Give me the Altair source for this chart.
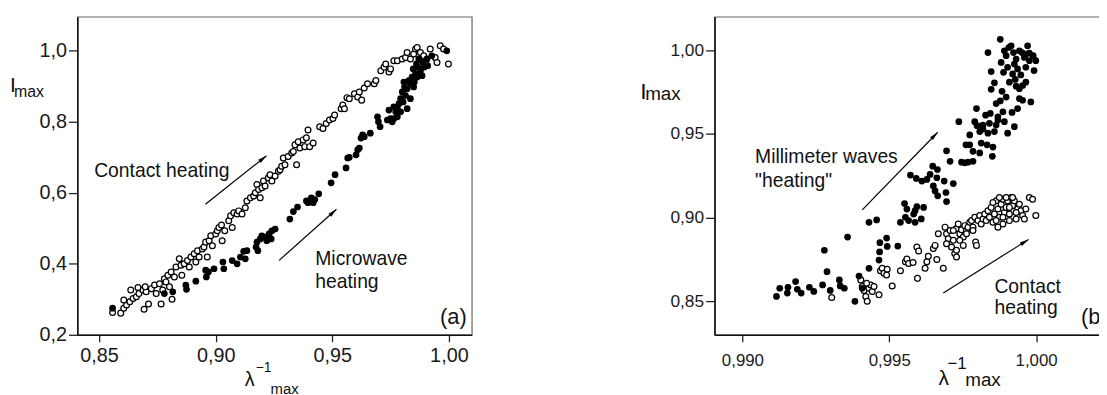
import altair as alt
import pandas as pd

FONT = "Liberation Sans"

# ---------------- panel (a) data ----------------
a_contact_x = [0.8558,0.8593,0.8606,0.8618,0.8632,0.8646,0.8606,0.8636,0.8660,0.8671,
 0.8688,0.8702,0.8693,0.8712,0.8667,0.8698,0.8724,0.8738,0.8745,0.8759,
 0.8766,0.8773,0.8780,0.8787,0.8795,0.8802,0.8813,0.8809,0.8823,0.8830,
 0.8844,0.8851,0.8855,0.8865,0.8879,0.8887,0.8894,0.8908,0.8915,0.8922,
 0.8929,0.8943,0.8950,0.8957,0.8964,0.8972,0.8979,0.8986,0.9000,0.9007,
 0.9014,0.9025,0.9028,0.9039,0.9056,0.9064,0.9071,0.9078,0.9092,0.9099,
 0.9113,0.9127,0.9134,0.9149,0.9163,0.9170,0.9177,0.9184,0.9191,0.9198,
 0.9205,0.9212,0.9226,0.9233,0.9241,0.9255,0.9269,0.9276,0.9283,0.9290,
 0.9297,0.9311,0.9326,0.9333,0.9340,0.9347,0.9354,0.9361,0.9375,0.9382,
 0.9389,0.9396,0.9403,0.9418,0.9446,0.9460,0.9474,0.9488,0.9503,0.9510,
 0.9538,0.9545,0.9552,0.9563,0.9573,0.9595,0.9609,0.9616,0.9626,0.9637,
 0.9651,0.9680,0.9687,0.9708,0.9722,0.9729,0.9743,0.9750,0.9764,0.9779,
 0.9800,0.9814,0.9821,0.9835,0.9849,0.9857,0.9864,0.9878,0.9892,0.9920,
 0.9941,0.9949,0.9963,0.9977,0.9998,0.9881,0.9899]
a_contact_y = [0.263,0.261,0.275,0.284,0.293,0.302,0.298,0.326,0.307,0.316,
 0.326,0.321,0.272,0.287,0.333,0.335,0.330,0.340,0.316,0.344,
 0.287,0.326,0.358,0.349,0.368,0.335,0.300,0.377,0.363,0.391,
 0.414,0.396,0.368,0.400,0.409,0.391,0.419,0.428,0.405,0.437,
 0.419,0.442,0.447,0.461,0.419,0.465,0.479,0.451,0.484,0.493,
 0.502,0.509,0.465,0.493,0.521,0.535,0.502,0.544,0.540,0.549,
 0.540,0.558,0.577,0.586,0.591,0.600,0.623,0.609,0.586,0.614,
 0.633,0.619,0.642,0.651,0.633,0.647,0.661,0.665,0.675,0.698,
 0.679,0.702,0.712,0.716,0.735,0.679,0.744,0.726,0.749,0.730,
 0.755,0.777,0.730,0.740,0.786,0.781,0.795,0.805,0.809,0.819,
 0.837,0.847,0.837,0.868,0.865,0.879,0.870,0.884,0.861,0.895,
 0.907,0.907,0.916,0.944,0.954,0.963,0.940,0.949,0.972,0.972,
 0.977,0.981,0.995,0.977,0.991,1.005,1.009,0.995,0.986,1.005,
 0.981,0.967,1.014,1.005,0.963,0.963,0.967]

a_micro_x = [0.8558,0.8780,0.8816,0.8872,0.8875,0.8915,0.8957,0.8960,0.8969,0.8993,
 0.9031,0.9035,0.9071,0.9092,0.9106,0.9120,0.9127,0.9134,0.9173,0.9177,
 0.9181,0.9191,0.9198,0.9212,0.9219,0.9229,0.9238,0.9241,0.9255,0.9318,
 0.9333,0.9351,0.9389,0.9396,0.9410,0.9418,0.9425,0.9442,0.9495,0.9512,
 0.9559,0.9566,0.9573,0.9602,0.9609,0.9616,0.9623,0.9630,0.9637,0.9663,
 0.9694,0.9698,0.9705,0.9736,0.9743,0.9750,0.9764,0.9772,0.9779,0.9786,
 0.9793,0.9800,0.9804,0.9810,0.9814,0.9821,0.9828,0.9835,0.9842,0.9847,
 0.9852,0.9857,0.9861,0.9866,0.9871,0.9878,0.9885,0.9889,0.9895,0.9906,
 0.9835,0.9821,0.9793,0.9764,0.9757,0.9779,0.9807,0.9849,0.9864,0.9991,
 0.9927,0.9909]
a_micro_y = [0.275,0.316,0.321,0.340,0.328,0.351,0.382,0.363,0.377,0.386,
 0.405,0.386,0.409,0.400,0.419,0.435,0.414,0.437,0.447,0.461,
 0.437,0.470,0.479,0.475,0.465,0.484,0.470,0.493,0.498,0.526,
 0.547,0.560,0.577,0.572,0.586,0.572,0.581,0.597,0.628,0.651,
 0.670,0.698,0.700,0.707,0.721,0.726,0.754,0.763,0.758,0.768,
 0.814,0.800,0.786,0.805,0.833,0.809,0.842,0.828,0.814,0.851,
 0.865,0.884,0.856,0.898,0.874,0.893,0.916,0.907,0.926,0.949,
 0.912,0.935,0.963,0.954,0.977,0.944,0.930,0.967,0.954,0.977,
 0.865,0.837,0.828,0.809,0.800,0.837,0.912,0.898,0.926,1.000,
 0.986,0.958]

# ---------------- panel (b) data ----------------
b_mm_x = [0.99116,0.99127,0.99153,0.99155,0.99181,0.99187,0.99200,0.99228,0.99243,0.99273,
 0.99279,0.99288,0.99299,0.99330,0.99333,0.99347,0.99358,0.99383,0.99397,0.99408,
 0.99431,0.99431,0.99465,0.99467,0.99468,0.99457,0.99491,0.99493,0.99529,0.99552,
 0.99555,0.99566,0.99572,0.99588,0.99592,0.99588,0.99594,0.99609,0.99617,0.99639,
 0.99648,0.99650,0.99664,0.99665,0.99687,0.99695,0.99707,0.99718,0.99695,0.99737,
 0.99746,0.99761,0.99768,0.99774,0.99785,0.99774,0.99791,0.99797,0.99808,0.99813,
 0.99819,0.99828,0.99836,0.99844,0.99851,0.99853,0.99858,0.99864,0.99847,0.99858,
 0.99864,0.99870,0.99878,0.99884,0.99892,0.99898,0.99903,0.99909,0.99918,0.99926,
 0.99932,0.99937,0.99943,0.99954,0.99870,0.99881,0.99889,0.99898,0.99903,0.99915,
 0.99920,0.99926,0.99932,0.99937,0.99943,0.99948,0.99954,0.99960,0.99965,0.99971,
 0.99977,0.99982,0.99990,0.99993,0.99999,0.99878,0.99892,0.99836,0.99847,0.99907,
 0.99923,0.99952,0.99965,0.99977,0.99929,0.99943,0.99887,0.99841,0.99808,0.99785,
 0.99965,0.99799,0.99819,0.99833,0.99757,0.99611,0.99662,0.99656,0.99628,0.99560,
 0.99583,0.99538,0.99693]
b_mm_y = [0.8529,0.8578,0.8549,0.8584,0.8618,0.8572,0.8549,0.8584,0.8559,0.8598,
 0.8805,0.8677,0.8565,0.8628,0.8592,0.8578,0.8884,0.8500,0.8651,0.8578,
 0.8972,0.8697,0.8746,0.8795,0.8850,0.8986,0.8878,0.8828,0.8830,0.9084,
 0.9002,0.8982,0.9254,0.8972,0.9234,0.9041,0.9065,0.8992,0.9061,0.9258,
 0.9307,0.9189,0.9287,0.9130,0.9218,0.9399,0.9336,0.9203,0.9096,0.9573,
 0.9331,0.9435,0.9331,0.9435,0.9396,0.9494,0.9573,0.9651,0.9514,0.9445,
 0.9553,0.9612,0.9504,0.9622,0.9366,0.9421,0.9514,0.9553,0.9766,0.9805,
 0.9681,0.9602,0.9697,0.9754,0.9573,0.9720,0.9504,0.9809,0.9628,0.9543,
 0.9785,0.9651,0.9711,0.9701,0.9583,0.9927,0.9868,0.9967,0.9898,1.0026,
 0.9858,0.9917,0.9947,0.9888,0.9996,0.9852,0.9789,0.9957,0.9898,1.0026,
 0.9937,0.9691,0.9967,0.9878,0.9937,1.0065,0.9996,0.9986,0.9872,1.0016,
 0.9986,0.9986,0.9976,0.9982,0.9825,0.9770,0.9632,0.9563,0.9386,0.9336,
 0.9809,0.9549,0.9529,0.9435,0.9327,0.9218,0.9238,0.9159,0.9228,0.9051,
 0.9021,0.8972,0.9150]

b_contact_x = [0.99304,0.99403,0.99408,0.99414,0.99420,0.99425,0.99431,0.99437,0.99442,0.99448,
 0.99423,0.99465,0.99470,0.99476,0.99482,0.99493,0.99491,0.99510,0.99538,0.99555,
 0.99560,0.99566,0.99581,0.99594,0.99600,0.99596,0.99622,0.99628,0.99633,0.99650,
 0.99656,0.99662,0.99667,0.99684,0.99690,0.99695,0.99701,0.99707,0.99712,0.99718,
 0.99723,0.99727,0.99729,0.99735,0.99740,0.99746,0.99752,0.99757,0.99763,0.99768,
 0.99774,0.99780,0.99785,0.99794,0.99797,0.99791,0.99802,0.99808,0.99813,0.99819,
 0.99825,0.99830,0.99836,0.99841,0.99847,0.99853,0.99858,0.99864,0.99870,0.99875,
 0.99881,0.99887,0.99892,0.99898,0.99903,0.99909,0.99915,0.99920,0.99926,0.99932,
 0.99937,0.99943,0.99948,0.99954,0.99960,0.99965,0.99977,0.99988,0.99999,0.99853,
 0.99875,0.99898,0.99920,0.99864,0.99887,0.99909,0.99932,0.99740,0.99752,0.99763,
 0.99785,0.99729,0.99718,0.99695,0.99887,0.99909,0.99870]
b_contact_y = [0.8523,0.8628,0.8588,0.8565,0.8529,0.8500,0.8578,0.8598,0.8559,0.8588,
 0.8608,0.8539,0.8683,0.8697,0.8667,0.8691,0.8657,0.8592,0.8683,0.8736,
 0.8752,0.8726,0.8732,0.8825,0.8801,0.8637,0.8697,0.8736,0.8769,0.8815,
 0.8834,0.8750,0.8903,0.8697,0.8943,0.8903,0.8874,0.8923,0.8825,0.8864,
 0.8785,0.8933,0.8805,0.8962,0.8903,0.8927,0.8884,0.8952,0.8923,0.8943,
 0.8972,0.8982,0.8943,0.8854,0.8834,0.9002,0.8982,0.9012,0.8962,0.8992,
 0.9021,0.8982,0.9041,0.9002,0.9061,0.8972,0.9021,0.9100,0.9051,0.9002,
 0.9080,0.9110,0.9031,0.9061,0.9100,0.9021,0.9120,0.9071,0.9100,0.8992,
 0.9051,0.9080,0.9041,0.9012,0.8992,0.9051,0.9120,0.9110,0.9012,0.9090,
 0.9120,0.9120,0.9120,0.8982,0.8962,0.9061,0.9031,0.8864,0.8834,0.8903,
 0.8923,0.8765,0.8923,0.8844,0.9002,0.8982,0.8943]

# ticks and domains
a_xticks = [0.85, 0.90, 0.95, 1.00]
a_yticks = [0.2, 0.4, 0.6, 0.8, 1.0]
b_xticks = [0.990, 0.995, 1.000]
b_yticks = [0.85, 0.90, 0.95, 1.00]
a_xdomain = [0.8407, 1.0098]
a_ydomain = [0.2, 1.096]
b_xdomain = [0.98905, 1.00258]
b_ydomain = [0.83, 1.02]

# annotations (data coordinates)
a_text = ["Contact heating", "Microwave", "heating"]
a_text_x = [0.8479, 0.9427, 0.9427]
a_text_y = [0.6445, 0.3974, 0.3312]
a_arrow_x1 = [0.8956, 0.9272]
a_arrow_y1 = [0.5676, 0.4095]
a_arrow_x2 = [0.9218, 0.9518]
a_arrow_y2 = [0.7043, 0.5537]
a_arrow_angle = [51.5, 47.9]

b_text = ["Millimeter waves", "\"heating\"", "Contact", "heating"]
b_text_x = [0.99043, 0.99043, 0.99858, 0.99858]
b_text_y = [0.9325, 0.9180, 0.8552, 0.8422]
b_arrow_x1 = [0.99408, 0.99684]
b_arrow_y1 = [0.9046, 0.8550]
b_arrow_x2 = [0.99665, 0.99974]
b_arrow_y2 = [0.9510, 0.8869]
b_arrow_angle = [44.0, 57.9]

ARROW = "M0,0L0.45,2L-0.45,2Z"


def comma(fmt):
    return "replace(format(datum.value, '" + fmt + "'), '.', ',')"


def encs(xdom, ydom, xt, yt, xf, yf, lx, ly, xpad, ytick):
    X = alt.X("x:Q", scale=alt.Scale(domain=xdom, nice=False, zero=False),
              axis=alt.Axis(values=xt, labelExpr=comma(xf), title=None, grid=False,
                            tickSize=7, tickWidth=1.3, tickColor="#222",
                            labelPadding=xpad, labelFontSize=lx, labelFont=FONT,
                            labelColor="#1a1a1a", labelFlush=False, labelOverlap=False,
                            domainColor="#111", domainWidth=1.6))
    Y = alt.Y("y:Q", scale=alt.Scale(domain=ydom, nice=False, zero=False),
              axis=alt.Axis(values=yt, labelExpr=comma(yf), title=None, grid=False,
                            tickSize=ytick, tickWidth=1.3, tickColor="#222",
                            labelPadding=2, labelFontSize=ly, labelFont=FONT,
                            labelColor="#1a1a1a", labelFlush=False, labelOverlap=False,
                            domainColor="#111", domainWidth=1.6))
    return X, Y


def label(t, px, py, size):
    return alt.Chart(pd.DataFrame({"t": [t]})).mark_text(
        align="left", baseline="alphabetic", font=FONT, fontSize=size, color="#111"
    ).encode(x=alt.value(px), y=alt.value(py), text="t:N")


def panel(X, Y, open_x, open_y, fill_x, fill_y, osize, fsize, txt, tx, ty, tsize,
          ax1, ay1, ax2, ay2, ang, tag, tag_x, tag_y, tag_align, tag_clip, titles, w, h):
    op = alt.Chart(pd.DataFrame({"x": open_x, "y": open_y})).mark_circle(
        size=osize, fill="white", stroke="black", strokeWidth=1.25, opacity=1
    ).encode(x=X, y=Y)
    fp = alt.Chart(pd.DataFrame({"x": fill_x, "y": fill_y})).mark_circle(
        size=fsize, color="black", opacity=1
    ).encode(x=X, y=Y)
    tl = alt.Chart(pd.DataFrame({"x": tx, "y": ty, "t": txt})).mark_text(
        align="left", baseline="alphabetic", font=FONT, fontSize=tsize, color="#111"
    ).encode(x=X, y=Y, text="t:N")
    ar = alt.Chart(pd.DataFrame({"x": ax1, "y": ay1, "x2": ax2, "y2": ay2})).mark_rule(
        color="black", strokeWidth=1.2
    ).encode(x=X, y=Y, x2="x2:Q", y2="y2:Q")
    hd = alt.Chart(pd.DataFrame({"x": ax2, "y": ay2, "a": ang})).mark_point(
        shape=ARROW, filled=True, color="black", size=81, opacity=1, strokeWidth=0
    ).encode(x=X, y=Y, angle=alt.Angle("a:Q", scale=None))
    tg = alt.Chart(pd.DataFrame({"x": [tag_x], "y": [tag_y], "t": [tag]})).mark_text(
        align=tag_align, baseline="alphabetic", font=FONT, fontSize=22, color="#111",
        clip=tag_clip
    ).encode(x=X, y=Y, text="t:N")
    layers = [op, fp, ar, hd, tl, tg] + [label(*t) for t in titles]
    return alt.layer(*layers).properties(width=w, height=h)


XA, YA = encs(a_xdomain, a_ydomain, a_xticks, a_yticks, ".2f", ".1f", 20, 20, 4, 9)
XB, YB = encs(b_xdomain, b_ydomain, b_xticks, b_yticks, ".3f", ".2f", 17, 17.5, 11, 9)

left = panel(XA, YA, a_contact_x, a_contact_y, a_micro_x, a_micro_y, 34, 46,
             a_text, a_text_x, a_text_y, 19.5,
             a_arrow_x1, a_arrow_y1, a_arrow_x2, a_arrow_y2, a_arrow_angle,
             "(a)", 1.00765, 0.2307, "right", False,
             [("I", -68, 76, 21), ("max", -64, 81, 16),
              ("λ", 169, 373, 20), ("−1", 180, 359, 14), ("max", 195, 381, 15)],
             398, 321)

right = panel(XB, YB, b_contact_x, b_contact_y, b_mm_x, b_mm_y, 34, 46,
              b_text, b_text_x, b_text_y, 19.5,
              b_arrow_x1, b_arrow_y1, b_arrow_x2, b_arrow_y2, b_arrow_angle,
              "(b)", 1.00153, 0.8363, "left", True,
              [("I", -75, 83, 23), ("max", -70, 84.5, 19),
               ("λ", 226, 372, 21), ("−1", 235, 356, 17), ("max", 253, 372.5, 19)],
              401, 321)

chart = alt.hconcat(left, right, spacing=168).properties(
    padding={"left": 1, "top": 6, "right": -14, "bottom": -3},
    background="white",
).configure_view(stroke="#666", strokeWidth=1.2)

chart.save("out.html", embed_options={"renderer": "svg", "actions": False})
